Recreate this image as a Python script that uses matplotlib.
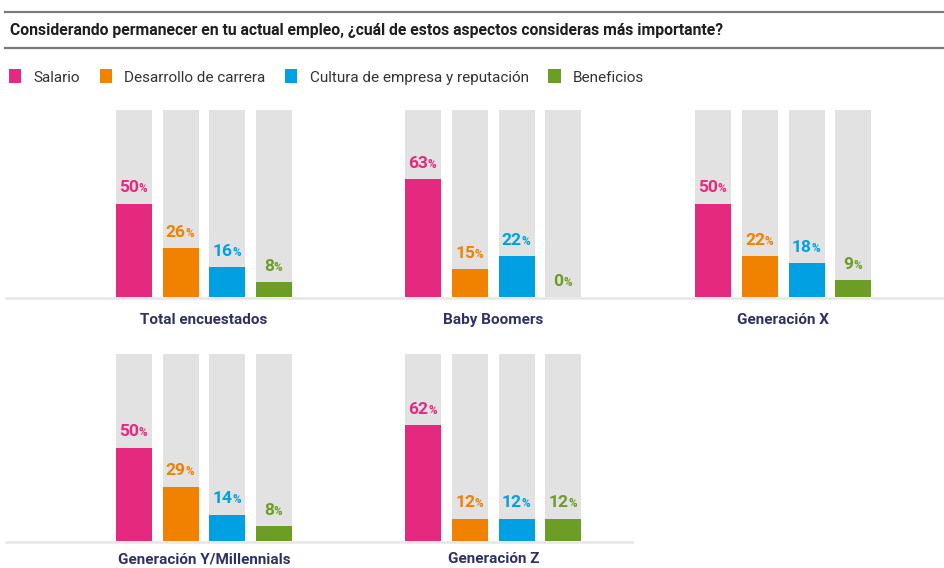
import matplotlib
matplotlib.use("Agg")
import matplotlib.pyplot as plt
from matplotlib.patches import Patch
from matplotlib.lines import Line2D

# ---- data ----
categories = ["Salario", "Desarrollo de carrera", "Cultura de empresa y reputación", "Beneficios"]
groups = ["Total encuestados", "Baby Boomers", "Generación X", "Generación Y/Millennials", "Generación Z"]
total = [50, 26, 16, 8]
boomers = [63, 15, 22, 0]
gen_x = [50, 22, 18, 9]
gen_y = [50, 29, 14, 8]
gen_z = [62, 12, 12, 12]
series = [total, boomers, gen_x, gen_y, gen_z]
title = "Considerando permanecer en tu actual empleo, ¿cuál de estos aspectos consideras más importante?"

colors = ["#E5297F", "#F08200", "#00A0E3", "#6C9D24"]
bg_gray = "#E2E2E2"
navy = "#2E3166"
FONT = "Roboto"

W, H = 945, 568
fig = plt.figure(figsize=(W / 100, H / 100), dpi=100)

def fx(px):
    return px / W

def fy(py):
    return 1 - py / H

# title rules and text
for yy in (12, 48):
    fig.add_artist(Line2D([fx(5), fx(945)], [fy(yy), fy(yy)], color="#7a7a7a", lw=1.6))
fig.text(fx(10), fy(30), title, fontsize=11.3, fontweight="bold", color="#1e1e1e",
         family=FONT, va="center", ha="left")

# legend
handles = [Patch(facecolor=c, edgecolor="none") for c in colors]
fig.legend(handles, categories, loc="center left", bbox_to_anchor=(fx(-5), fy(77)), ncol=4,
           frameon=False, handlelength=0.8, handleheight=1.0, handletextpad=0.8,
           columnspacing=1.3, prop={"family": FONT, "size": 11.0}, labelcolor="#333333")

# panels
panel_left = [110.7, 400.0, 690.0, 110.7, 400.0]
panel_base = [297, 297, 297, 541, 541]
label_off = [23, 23, 23, 18, 18]
panel_w = 186.7
panel_h = 187

for i, (g, vals) in enumerate(zip(groups, series)):
    ax = fig.add_axes([fx(panel_left[i]), fy(panel_base[i]), fx(panel_w), panel_h / H])
    x = list(range(len(vals)))
    ax.bar(x, [100] * len(vals), width=0.77, color=bg_gray, zorder=1)
    ax.bar(x, vals, width=0.77, color=colors, zorder=2)
    ax.set_xlim(-0.5, 3.5)
    ax.set_ylim(0, 100)
    ax.axis("off")
    for xi, v, c in zip(x, vals, colors):
        t = ax.annotate(f"{v}", xy=(xi, v), xytext=(-3.5, 6), textcoords="offset points",
                        ha="center", va="bottom", fontsize=12.5, fontweight="bold",
                        color=c, family=FONT, zorder=3)
        ax.annotate("%", xy=(1, 0), xycoords=t, xytext=(-0.3, 0), textcoords="offset points",
                    ha="left", va="bottom", fontsize=8.5, fontweight="bold",
                    color=c, family=FONT, zorder=3)
    ax.text(0.5, -label_off[i] / panel_h, g, transform=ax.transAxes, ha="center", va="center",
            fontsize=11, fontweight="bold", color=navy, family=FONT)

# baselines
fig.add_artist(Line2D([fx(6), fx(945)], [fy(298), fy(298)], color="#e6e6e6", lw=1.8, zorder=0))
fig.add_artist(Line2D([fx(6), fx(632)], [fy(542), fy(542)], color="#e6e6e6", lw=1.8, zorder=0))

fig.savefig("out.png", dpi=100)
